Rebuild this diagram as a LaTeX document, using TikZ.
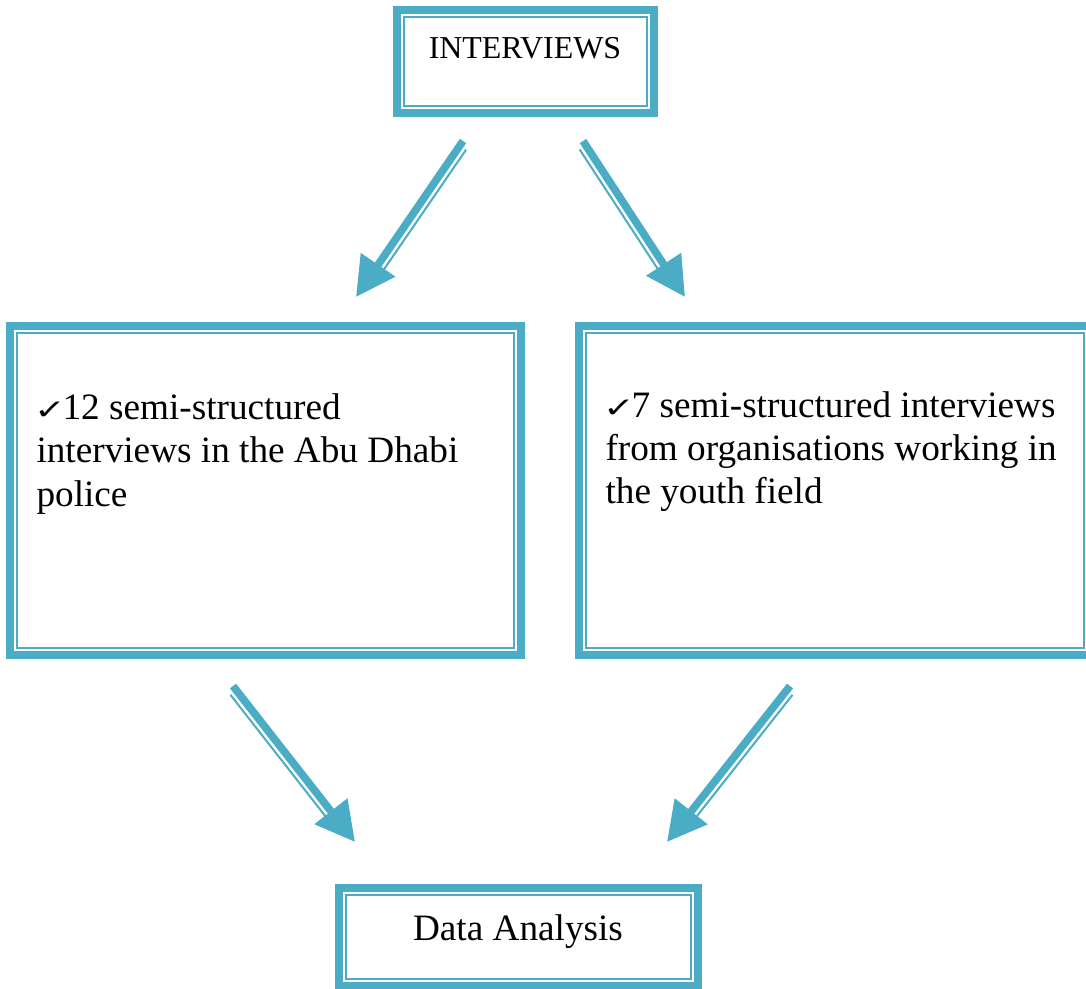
\documentclass[tikz,border=0pt]{standalone}
\usepackage{graphicx}
\usepackage{fontspec}
\setmainfont{Liberation Serif}
\newfontfamily\symfont{DejaVu Sans}
\usetikzlibrary{calc,fit,arrows.meta}

\definecolor{frameblue}{HTML}{4BACC6}
\newcommand{\okmark}{\hspace{-0.9pt}\makebox[10.7pt][l]{\symfont\fontsize{19}{19}\selectfont\scalebox{0.75}[0.55]{✓}}}
% thick shaft with a thin line beside it
\newcommand{\twinarrow}[3]{%
  \draw[arrowthick] (#1) -- (#2);
  \draw[arrowthin] ($(#1)!2.8pt!#3:(#2)$) -- ($(#2)!2.8pt!#3-180:(#1)$);
}

\tikzset{
  boxframe/.style={draw=frameblue, line width=3pt, inner sep=0pt, outer sep=0pt},
  innerframe/.style={draw=frameblue, line width=0.75pt},
  arrowthick/.style={draw=frameblue, line width=2.9pt, -{Triangle[length=14.7pt,width=15pt]}},
  arrowthin/.style={draw=frameblue, line width=0.75pt, shorten <=2pt, shorten >=14pt},
  bodytext/.style={font=\fontsize{14}{16.2}\selectfont, align=left, inner sep=0pt, anchor=north west}
}

\begin{document}
\begin{tikzpicture}[x=0.376pt, y=-0.376pt]
      \clip (0,0) rectangle (1086,988);

      % interviews
      \node[boxframe, fit={(397,10) (654,113)}] (interviews) {};
      \draw[innerframe] ([shift={(7,7)}]interviews.north west) rectangle ([shift={(-7,-7)}]interviews.south east);
      \node[font=\fontsize{12}{14}\selectfont, anchor=base, inner sep=0pt] (interviewslabel) at (525,58) {INTERVIEWS};

      % police
      \node[boxframe, fit={(10,326) (521,655)}] (police) {};
      \draw[innerframe] ([shift={(7,7)}]police.north west) rectangle ([shift={(-7,-7)}]police.south east);
      \node[bodytext] (policetext) at (36,393.5) {\okmark12 semi-structured\\interviews in the Abu Dhabi\\police};

      % youth
      \node[boxframe, fit={(579,326) (1091,655)}] (youth) {};
      \draw[innerframe] ([shift={(7,7)}]youth.north west) rectangle ([shift={(-7,-7)}]youth.south east);
      \node[bodytext] (youthtext) at (605,391) {\okmark7 semi-structured interviews\\from organisations working in\\the youth field};

      % analysis
      \node[boxframe, fit={(339,888) (698,986)}] (analysis) {};
      \draw[innerframe] ([shift={(7,7)}]analysis.north west) rectangle ([shift={(-7,-7)}]analysis.south east);
      \node[font=\fontsize{14}{16}\selectfont, anchor=base, inner sep=0pt] (analysislabel) at (518,940) {Data Analysis};

      % arrows
      \coordinate (intL) at (463,141);
      \coordinate (polT) at (356,297);
      \coordinate (intR) at (583,141);
      \coordinate (youT) at (685,297);
      \coordinate (polB) at (233,686);
      \coordinate (anaL) at (355,842);
      \coordinate (youB) at (790,686);
      \coordinate (anaR) at (667,842);
      \twinarrow{intL}{polT}{90}
      \twinarrow{intR}{youT}{-90}
      \twinarrow{polB}{anaL}{-90}
      \twinarrow{youB}{anaR}{90}
\end{tikzpicture}
\end{document}
